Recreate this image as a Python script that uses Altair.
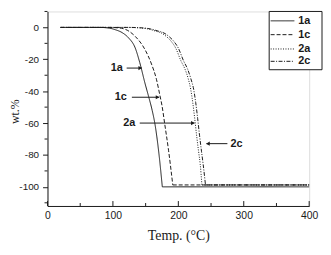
import altair as alt
import pandas as pd

# ---------------- data ----------------
series_names = ["1a", "1c", "2a", "2c"]

x_1a = [20, 80, 95, 104, 115, 124, 134, 141, 149, 155, 160, 164, 170, 175.5]
y_1a = [0, 0, -0.5, -1.5, -3.5, -6.6, -12.8, -22, -35, -44, -52, -60, -78, -100]
tail_1a = -100

x_1c = [20, 95, 108, 116, 125, 134, 149, 159, 166.5, 172, 175, 179, 185, 191.5]
y_1c = [0, 0, -0.3, -0.8, -2.5, -5.6, -13.9, -23, -32.5, -43, -49, -60, -77, -98.8]
tail_1c = -98.8

x_2a = [20, 120, 140, 154, 165, 174, 182, 189, 196, 204, 210, 215, 219, 222, 225, 228, 231, 233.5, 236]
y_2a = [0, 0, -0.3, -1, -2.3, -3.5, -5.8, -8.7, -13, -21, -26, -32, -39, -47, -57, -68, -78, -86, -98.8]
tail_2a = -98.8

x_2c = [20, 125, 145, 158, 169, 178, 186, 193, 200, 208, 214, 219, 223.5, 226.5, 229.5, 232.5, 235.5, 238, 241.5]
y_2c = [0, 0, -0.3, -1, -2.3, -3.5, -5.8, -8.7, -13, -21, -26, -32, -39, -47, -57, -68, -78, -86, -98.8]
tail_2c = -98.8

x_end = 400

# annotations (labels with arrows)
ann_labels = ["1a", "1c", "2a", "2c"]
ann_label_x = [106, 112, 125, 289]
ann_y = [-25.5, -43.8, -60, -72.9]
arrow_start = [121, 129, 141, 275]
arrow_end = [144, 170.5, 224.5, 243]
arrow_dir = ["right", "right", "right", "left"]

x_major_ticks = [0, 100, 200, 300, 400]
x_minor_ticks = [50, 150, 250, 350]
y_major_ticks = [-100, -80, -60, -40, -20, 0]
y_minor_ticks = [-110, -90, -70, -50, -30, -10, 10]

# ---------------- build tables ----------------
rows = []
for name, xs, ys, tail in [("1a", x_1a, y_1a, tail_1a), ("1c", x_1c, y_1c, tail_1c),
                           ("2a", x_2a, y_2a, tail_2a), ("2c", x_2c, y_2c, tail_2c)]:
    for i, (xv, yv) in enumerate(zip(xs, ys)):
        rows.append({"series": name, "seg": name + "_drop", "order": i, "x": xv, "y": yv})
    rows.append({"series": name, "seg": name + "_tail", "order": 0, "x": xs[-1], "y": tail})
    rows.append({"series": name, "seg": name + "_tail", "order": 1, "x": x_end, "y": tail})
curves = pd.DataFrame(rows)

ann = pd.DataFrame({"label": ann_labels, "lx": ann_label_x, "y": ann_y,
                    "x1": arrow_start, "x2": arrow_end, "dir": arrow_dir})

W, H = 265, 197
INK = "#1a1a1a"
SANS = "Liberation Sans"
SERIF = "Liberation Serif"
dashes = [[1, 0], [4, 2], [1, 1.5], [4, 1.5, 1, 1.5]]

xscale = alt.Scale(domain=[0, 400], nice=False, zero=False)
yscale = alt.Scale(domain=[-112, 10], nice=False, zero=False)

xaxis = alt.Axis(values=x_major_ticks, format="d", title="Temp. (°C)", titleFont=SERIF, titleFontSize=14,
                 titleFontWeight="normal", titleColor=INK, titlePadding=7,
                 labelFont=SANS, labelFontSize=10.5, labelColor=INK, labelPadding=5,
                 tickSize=0, grid=False, domainColor=INK, labelFlush=False, labelOverlap=False)
yaxis = alt.Axis(values=y_major_ticks, title="wt.%", titleFont=SERIF, titleFontSize=12,
                 titleFontWeight="normal", titleColor=INK, titleX=-26, titleY=101,
                 labelFont=SANS, labelFontSize=10, labelColor=INK, labelPadding=4,
                 labelExpr="replace(datum.label, '\u2212', '-')",
                 tickSize=5, tickColor=INK, grid=False, domainColor=INK,
                 labelFlush=False, labelOverlap=False)


def X(field):
    return alt.X(field, scale=xscale, axis=xaxis, title="Temp. (°C)")


def Y(field):
    return alt.Y(field, scale=yscale, axis=yaxis, title="wt.%")


lines = alt.Chart(curves).mark_line(interpolate="monotone", strokeWidth=1, color=INK).encode(
    x=X("x:Q"), y=Y("y:Q"),
    detail="seg:N",
    order="order:Q",
    strokeDash=alt.StrokeDash("series:N", scale=alt.Scale(domain=series_names, range=dashes), legend=None),
)

# inward x ticks
xmaj = alt.Chart(pd.DataFrame({"x": x_major_ticks})).mark_rule(color=INK, strokeWidth=1).encode(
    x=X("x:Q"), y=alt.value(H), y2=alt.value(H - 5))
xmnr = alt.Chart(pd.DataFrame({"x": x_minor_ticks})).mark_rule(color=INK, strokeWidth=1).encode(
    x=X("x:Q"), y=alt.value(H), y2=alt.value(H - 3))
# minor y ticks (outward)
ymnr = alt.Chart(pd.DataFrame({"y": y_minor_ticks})).mark_rule(color=INK, strokeWidth=1).encode(
    y=Y("y:Q"), x=alt.value(0), x2=alt.value(-3))

# annotations
arrow_lines = alt.Chart(ann).mark_rule(color=INK, strokeWidth=1).encode(
    x=X("x1:Q"), x2="x2:Q", y=Y("y:Q"))
heads_r = alt.Chart(ann).transform_filter("datum.dir == 'right'").mark_point(
    shape="triangle-right", filled=True, color=INK, size=18, opacity=1, xOffset=-1.5).encode(
    x=X("x2:Q"), y=Y("y:Q"))
heads_l = alt.Chart(ann).transform_filter("datum.dir == 'left'").mark_point(
    shape="triangle-left", filled=True, color=INK, size=18, opacity=1, xOffset=1.5).encode(
    x=X("x2:Q"), y=Y("y:Q"))
ann_text = alt.Chart(ann).mark_text(font=SANS, fontSize=11, fontWeight="bold", color=INK,
                                    align="center", baseline="middle").encode(
    x=X("lx:Q"), y=Y("y:Q"), text="label:N")

# manual legend box
one = pd.DataFrame({"a": [0]})
box = alt.Chart(one).mark_rect(fill="white", stroke=INK, strokeWidth=1).encode(
    x=alt.value(224.5), x2=alt.value(278), y=alt.value(0), y2=alt.value(59))
legend_layers = [box]
legend_rows_y = [9.5, 23.5, 38, 50.5]
for name, dash, ly in zip(series_names, dashes, legend_rows_y):
    legend_layers.append(alt.Chart(one).mark_rule(color=INK, strokeWidth=1, strokeDash=dash).encode(
        x=alt.value(226), x2=alt.value(250), y=alt.value(ly)))
    legend_layers.append(alt.Chart(one).mark_text(font=SANS, fontSize=11, fontWeight="bold", color=INK,
                                                  align="left", baseline="middle").encode(
        x=alt.value(254), y=alt.value(ly), text=alt.value(name)))

chart = alt.layer(lines, xmaj, xmnr, ymnr, arrow_lines, heads_r, heads_l, ann_text, *legend_layers).properties(
    width=W, height=H,
    autosize=alt.AutoSizeParams(type="none"),
    padding={"left": 40, "top": 2, "right": 14, "bottom": 38},
).configure_view(stroke=None).configure(background="white")

chart.save("out.html", embed_options={"renderer": "svg", "actions": False})
